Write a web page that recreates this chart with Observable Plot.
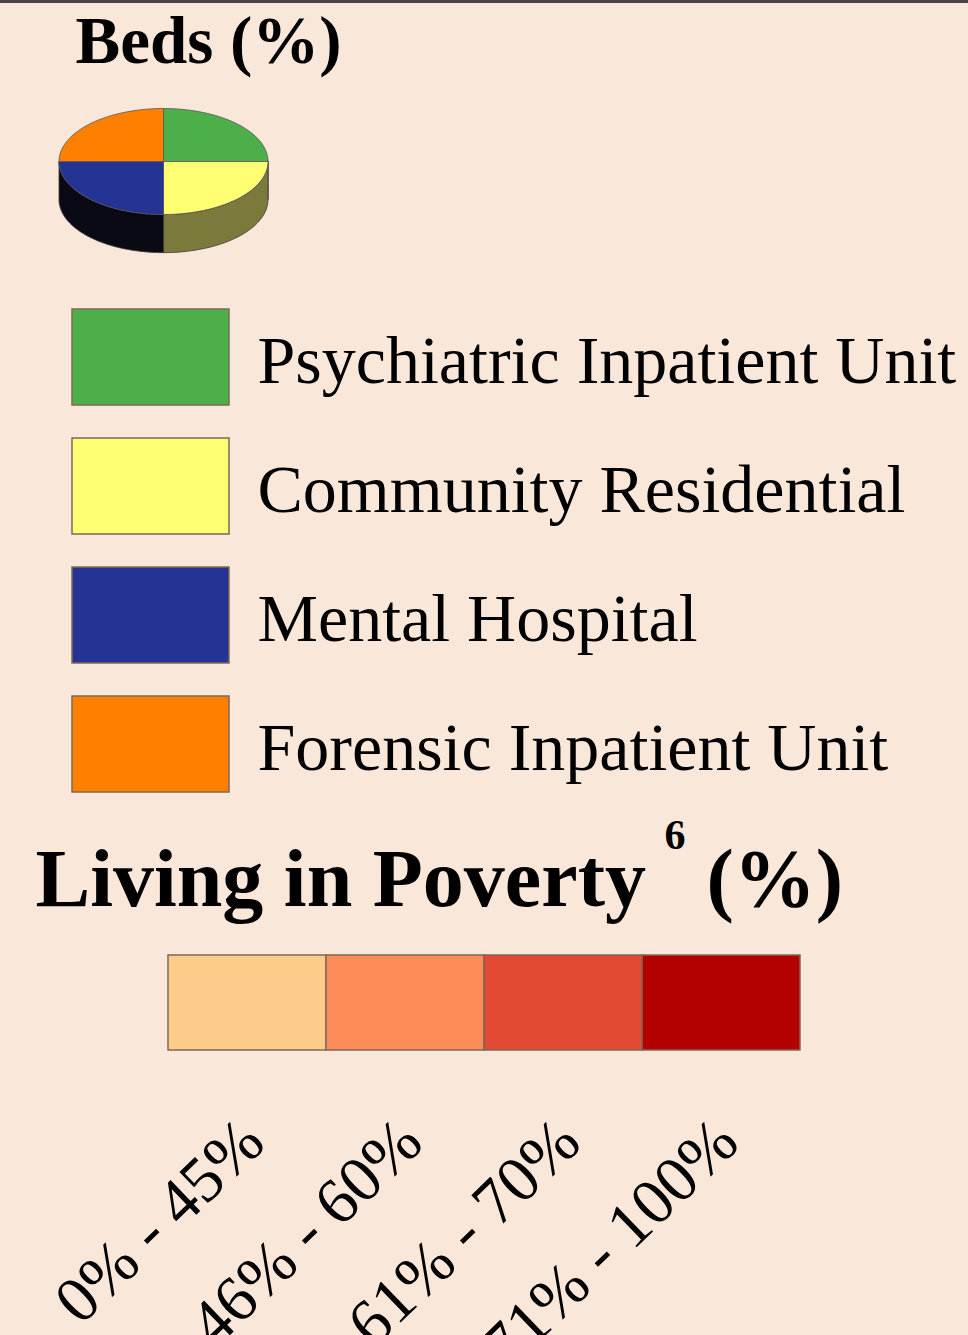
<!DOCTYPE html>
<html>
<head>
<meta charset="utf-8">
<script src="https://cdn.jsdelivr.net/npm/d3@7"></script>
<script src="https://cdn.jsdelivr.net/npm/@observablehq/plot@0.6"></script>
<style>
  html, body { margin: 0; padding: 0; background: #F9E7DA; }
  #page { position: relative; width: 968px; height: 1335px; overflow: hidden; background: #F9E7DA; }
  #topline { position: absolute; left: 0; top: 0; width: 968px; height: 3px; background: #4a4444; }
  .part { position: absolute; left: 0; }
  .part svg { background: none; overflow: hidden; }
</style>
</head>
<body>
<div id="page"><div id="topline"></div></div>
<script>
// ---------------- DATA ----------------
const bedsTitle = "Beds (%)";
const bedCategories = ["Psychiatric Inpatient Unit", "Community Residential", "Mental Hospital", "Forensic Inpatient Unit"];
const bedShares = [25, 25, 25, 25];
const bedColors = ["#4DAF4A", "#FFFF73", "#253494", "#FF7F00"];
const bedSideColors = ["#2E6A2C", "#7B7A3C", "#0A0A14", "#8A4500"];

const povertyTitle = "Living in Poverty";
const povertyNote = "6";
const povertyUnit = "(%)";
const povertyLabels = ["0% - 45%", "46% - 60%", "61% - 70%", "71% - 100%"];
const povertyColors = ["#FDCC8A", "#FC8D59", "#E34A33", "#B30000"];

// ---------------- LAYOUT HELPERS ----------------
const page = document.getElementById("page");
function place(node, top) {
  const div = document.createElement("div");
  div.className = "part";
  div.style.top = top + "px";
  div.appendChild(node);
  page.appendChild(div);
}
const serif = "'Liberation Serif', 'Times New Roman', serif";
const outline = "#7d6a55";

// ---------------- 3D PIE (Beds) ----------------
const arcs = d3.pie().sort(null).value(d => d)(bedShares);
const depth = 0.72; // thickness in units of the vertical radius
const topPts = [];
const sidePts = [];
const N = 48;
arcs.forEach((a, i) => {
  const id = "top" + i;
  topPts.push({id, u: 0, v: 0, fill: bedColors[i]});
  for (let k = 0; k <= N; k++) {
    const t = a.startAngle + (a.endAngle - a.startAngle) * k / N;
    topPts.push({id, u: Math.sin(t), v: -Math.cos(t), fill: bedColors[i]});
  }
  topPts.push({id, u: 0, v: 0, fill: bedColors[i]});
  const s0 = Math.max(a.startAngle, Math.PI / 2);
  const s1 = Math.min(a.endAngle, 3 * Math.PI / 2);
  if (s1 > s0) {
    const sid = "side" + i;
    const pts = [];
    for (let k = 0; k <= N; k++) {
      const t = s0 + (s1 - s0) * k / N;
      pts.push({id: sid, u: Math.sin(t), v: -Math.cos(t), fill: bedSideColors[i]});
    }
    for (let k = N; k >= 0; k--) {
      const t = s0 + (s1 - s0) * k / N;
      pts.push({id: sid, u: Math.sin(t), v: -Math.cos(t) + depth, fill: bedSideColors[i]});
    }
    pts.push(pts[0]);
    sidePts.push(...pts);
  }
});

const pieRy = 53;
place(Plot.plot({
  width: 968, height: 270, margin: 0,
  style: {background: "none"},
  x: {domain: [-1, 1], range: [58.5, 267.5], axis: null},
  y: {domain: [-1, 1 + depth], range: [108, 108 + (2 + depth) * pieRy], axis: null},
  color: {type: "identity"},
  marks: [
    Plot.line(sidePts, {x: "u", y: "v", z: "id", fill: "fill", stroke: "#3c3c3c", strokeWidth: 0.8, curve: "linear"}),
    Plot.line(topPts, {x: "u", y: "v", z: "id", fill: "fill", stroke: "#555555", strokeWidth: 0.8, curve: "linear"}),
    Plot.text([bedsTitle], {
      text: d => d, frameAnchor: "top-left", dx: 75, dy: 62, lineAnchor: "bottom", textAnchor: "start",
      fontSize: 67, fontWeight: "bold", fontFamily: serif, fill: "#000"
    })
  ]
}), 0);

// ---------------- BED LEGEND ----------------
place(Plot.plot({
  width: 968, height: 520, margin: 0,
  style: {background: "none"},
  x: {type: "band", domain: ["swatch"], range: [72, 229], padding: 0, axis: null},
  y: {type: "band", domain: bedCategories, range: [18, 502.5], paddingInner: 0.259, paddingOuter: 0, axis: null},
  color: {domain: bedCategories, range: bedColors},
  marks: [
    Plot.cell(bedCategories, {x: () => "swatch", y: d => d, fill: d => d, stroke: outline, strokeWidth: 1.5}),
    Plot.text(bedCategories, {
      x: () => "swatch", y: d => d, text: d => d, textAnchor: "start", dx: 106.5, dy: 4,
      fontSize: 68, fontFamily: serif, fill: "#000"
    })
  ]
}), 290);

// ---------------- POVERTY LEGEND ----------------
place(Plot.plot({
  width: 968, height: 535, margin: 0,
  style: {background: "none"},
  x: {type: "band", domain: povertyLabels, range: [168, 800], padding: 0, axis: null},
  y: {type: "band", domain: ["bar"], range: [155, 250], padding: 0, axis: null},
  color: {domain: povertyLabels, range: povertyColors},
  marks: [
    Plot.text([povertyTitle], {
      text: d => d, frameAnchor: "top-left", dx: 35, dy: 105, lineAnchor: "bottom", textAnchor: "start",
      fontSize: 82, fontWeight: "bold", fontFamily: serif, fill: "#000"
    }),
    Plot.text([povertyNote], {
      text: d => d, frameAnchor: "top-left", dx: 664, dy: 48, lineAnchor: "bottom", textAnchor: "start",
      fontSize: 42, fontWeight: "bold", fontFamily: serif, fill: "#000"
    }),
    Plot.text([povertyUnit], {
      text: d => d, frameAnchor: "top-left", dx: 706, dy: 105, lineAnchor: "bottom", textAnchor: "start",
      fontSize: 82, fontWeight: "bold", fontFamily: serif, fill: "#000"
    }),
    Plot.cell(povertyLabels, {x: d => d, y: () => "bar", fill: d => d, stroke: outline, strokeWidth: 1.5}),
    Plot.text(povertyLabels, {
      x: d => d, y: () => "bar", text: d => d, rotate: -44, textAnchor: "end", lineAnchor: "bottom",
      dx: 20, dy: 143, fontSize: 65, fontFamily: serif, fill: "#000"
    })
  ]
}), 800);
</script>
</body>
</html>
